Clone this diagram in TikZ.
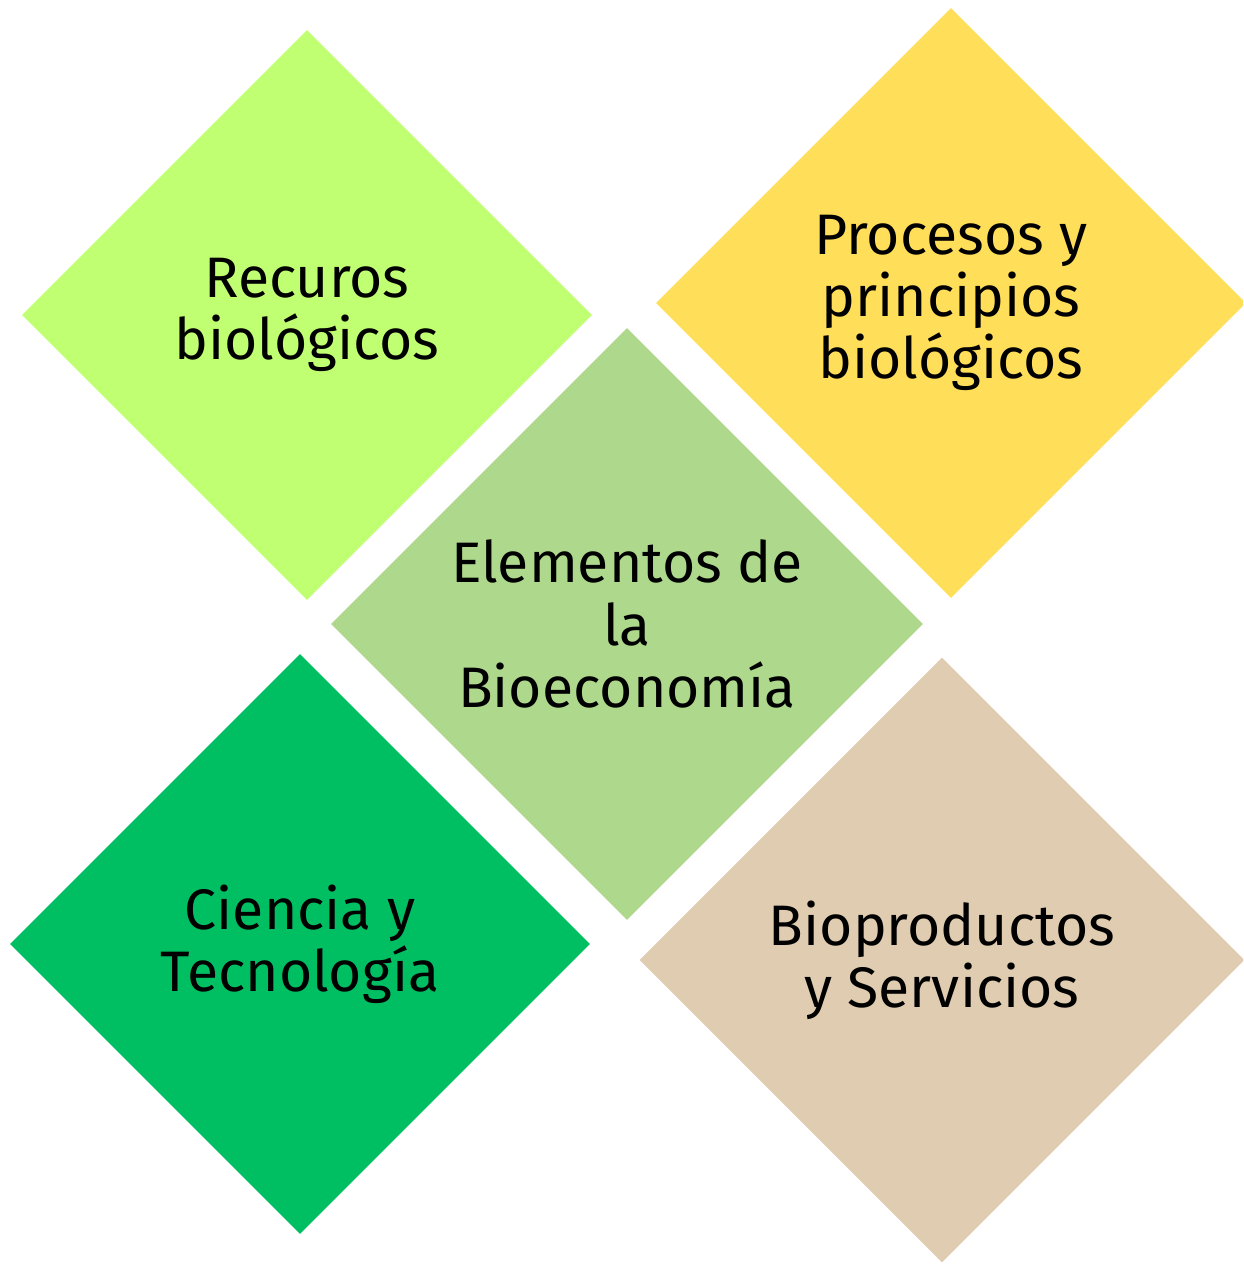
\documentclass[tikz,border=0pt]{standalone}
\usepackage{fontspec}
\setmainfont{Fira Sans}
\usetikzlibrary{shapes.geometric}

\definecolor{verdeclaro}{HTML}{C1FF72}
\definecolor{amarillo}{HTML}{FFDE59}
\definecolor{verdemedio}{HTML}{AED88C}
\definecolor{verdeoscuro}{HTML}{00BF63}
\definecolor{arena}{HTML}{E0CCB1}

\tikzset{
  rombo/.style={diamond, aspect=1, inner sep=0pt, align=center,
    font=\fontsize{32.5}{35.5}\selectfont, text=black}
}

\begin{document}
\begin{tikzpicture}[x=0.02cm,y=-0.02cm]
    \useasboundingbox (0,0) rectangle (1243,1266);
    \clip (0,0) rectangle (1243,1266);
    \node[rombo,fill=verdeclaro,minimum size=11.4cm] (recursos) at (307,315) {Recuros\\biológicos};
    \node[rombo,fill=amarillo,minimum size=11.8cm] (procesos) at (951,303) {Procesos y\\principios\\biológicos};
    \node[rombo,fill=verdemedio,minimum size=11.84cm] (elementos) at (627,624) {Elementos de\\la\\Bioeconomía};
    \node[rombo,fill=verdeoscuro,minimum size=11.6cm] (ciencia) at (300,944) {Ciencia y\\Tecnología};
    \node[rombo,fill=arena,minimum size=12.1cm] (bioproductos) at (942,960) {Bioproductos\\y Servicios};
  \end{tikzpicture}
\end{document}
